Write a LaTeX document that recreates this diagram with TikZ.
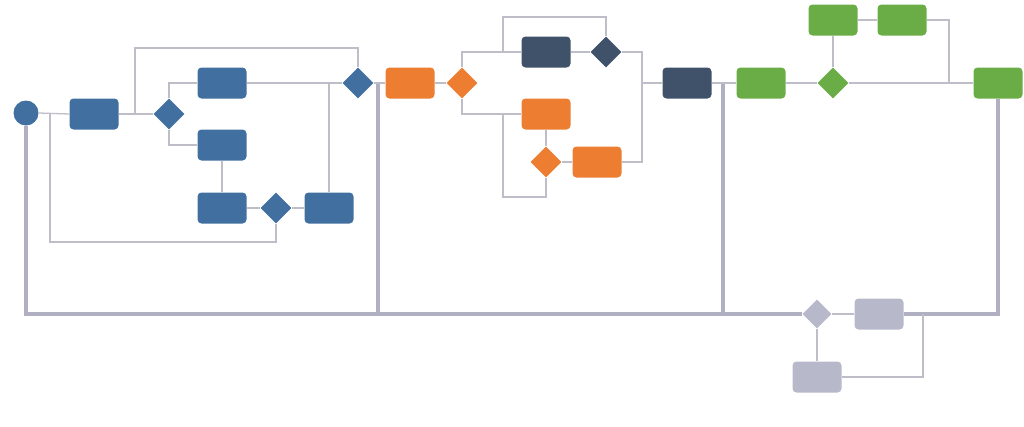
\documentclass[tikz,border=0pt]{standalone}
\usetikzlibrary{shapes.geometric,calc}
\definecolor{cblue}{RGB}{65,112,160}
\definecolor{cnavy}{RGB}{64,81,106}
\definecolor{corange}{RGB}{237,125,49}
\definecolor{cgreen}{RGB}{106,172,70}
\definecolor{cgray}{RGB}{183,184,201}
\definecolor{cline}{RGB}{190,190,200}
\definecolor{cthick}{RGB}{176,176,194}
\tikzset{
  box/.style={rectangle, rounded corners=4pt, minimum width=49pt, minimum height=31pt, inner sep=0pt, draw=none},
  dia/.style={diamond, aspect=1, minimum width=31pt, minimum height=31pt, inner sep=0pt, draw=none},
  startc/.style={circle, minimum size=25pt, inner sep=0pt, draw=none, fill=cblue},
  thin/.style={draw=cline, line width=1.3pt},
  thickline/.style={draw=cthick, line width=3.2pt},
}
\begin{document}
\begin{tikzpicture}[x=1pt,y=-1pt]
\useasboundingbox (0,0) rectangle (1024,426);
\coordinate (c1) at (378,83);
\coordinate (c2) at (723,83);
\coordinate (c1b) at (378,314);
\coordinate (c2b) at (723,314);
\coordinate (q1) at (949,83);
\coordinate (q2) at (923,314);
% nodes blue
\node[startc] (st) at (26,113) {};
\node[box, fill=cblue] (b1) at (94,114) {};
\node[dia, fill=cblue] (d1) at (169,114) {};
\node[box, fill=cblue] (b2) at (222,83) {};
\node[box, fill=cblue] (b3) at (222,145) {};
\node[box, fill=cblue] (b4) at (222,208) {};
\node[dia, fill=cblue] (d2) at (276,208) {};
\node[box, fill=cblue] (b5) at (329,208) {};
\node[dia, fill=cblue] (d3) at (358,83) {};
% orange / navy
\node[box, fill=corange] (o1) at (410,83) {};
\node[dia, fill=corange] (od1) at (462,83) {};
\node[box, fill=cnavy] (k1) at (546,52) {};
\node[dia, fill=cnavy] (kd) at (606,52) {};
\node[box, fill=corange] (o2) at (546,114) {};
\node[dia, fill=corange] (od2) at (546,162) {};
\node[box, fill=corange] (o3) at (597,162) {};
\node[box, fill=cnavy] (k2) at (687,83) {};
% green
\node[box, fill=cgreen] (g1) at (761,83) {};
\node[dia, fill=cgreen] (gd) at (833,83) {};
\node[box, fill=cgreen] (gt1) at (833,20) {};
\node[box, fill=cgreen] (gt2) at (902,20) {};
\node[box, fill=cgreen] (g2) at (998,83) {};
% gray
\node[dia, fill=cgray, minimum width=29pt, minimum height=29pt] (yd) at (817,314) {};
\node[box, fill=cgray] (y1) at (879,314) {};
\node[box, fill=cgray] (y2) at (817,377) {};
% auxiliary coordinates
\coordinate (j1) at (135,114);
\coordinate (t1) at (135,48);
\coordinate (j2) at (50,114);
\coordinate (l1) at (50,242);
\coordinate (r1) at (642,52);
\coordinate (j4) at (503,52);
\coordinate (t2) at (503,17);
\coordinate (j5) at (503,114);
\coordinate (l2) at (503,197);
% thick backbone
\draw[thickline] (st.south) |- (yd.west);
\draw[thickline] (c1b) -- (c1);
\draw[thickline] (c2b) -- (c2);
\draw[thickline] (g2.south) |- (y1.east);
% thin connectors blue
\draw[thin] (st.east) -- (b1.west);
\draw[thin] (b1.east) -- (d1.west);
\draw[thin] (j1) -- (t1) -| (d3.north);
\draw[thin] (d1.north) |- (b2.west);
\draw[thin] (d1.south) |- (b3.west);
\draw[thin] (b2.east) -- (d3.west);
\draw[thin] (b5.north) -- (b5.north |- b2.east);
\draw[thin] (b3.south) -- (b4.north);
\draw[thin] (b4.east) -- (d2.west);
\draw[thin] (d2.east) -- (b5.west);
\draw[thin] (d2.south) |- (l1) -- (j2);
\draw[thin] (d3.east) -- (o1.west);
% orange / navy
\draw[thin] (o1.east) -- (od1.west);
\draw[thin] (od1.north) |- (k1.west);
\draw[thin] (j4) -- (t2) -| (kd.north);
\draw[thin] (k1.east) -- (kd.west);
\draw[thin] (kd.east) -- (r1) |- (o3.east);
\draw[thin] (r1 |- k2.west) -- (k2.west);
\draw[thin] (od1.south) |- (o2.west);
\draw[thin] (j5) -- (l2) -| (od2.south);
\draw[thin] (o2.south) -- (od2.north);
\draw[thin] (od2.east) -- (o3.west);
\draw[thin] (k2.east) -- (g1.west);
% green
\draw[thin] (g1.east) -- (gd.west);
\draw[thin] (gd.east) -- (g2.west);
\draw[thin] (gd.north) -- (gt1.south);
\draw[thin] (gt1.east) -- (gt2.west);
\draw[thin] (gt2.east) -| (q1);
% gray
\draw[thin] (yd.east) -- (y1.west);
\draw[thin] (yd.south) -- (y2.north);
\draw[thin] (y2.east) -| (q2);
\end{tikzpicture}
\end{document}
